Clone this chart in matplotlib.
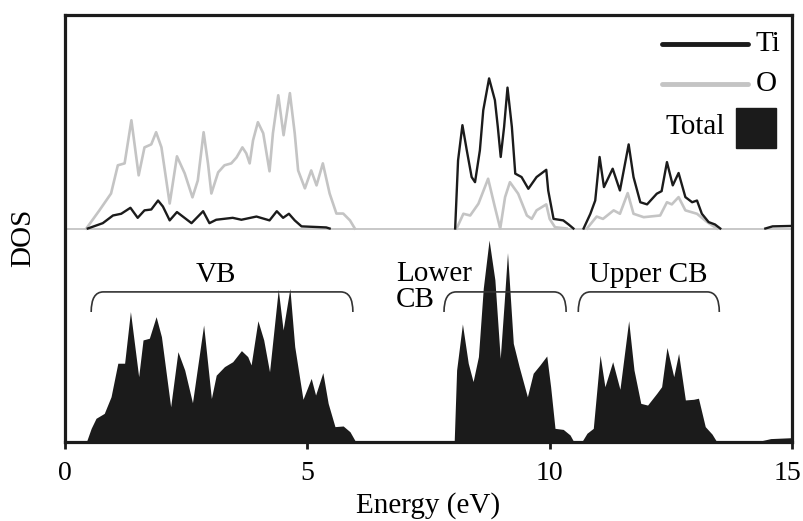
import numpy as np
import matplotlib
matplotlib.use("Agg")
import matplotlib.pyplot as plt
from matplotlib.path import Path
from matplotlib.patches import PathPatch, Rectangle
from matplotlib.transforms import ScaledTranslation

nan = np.nan

# ---- Partial DOS (upper panel, offset by 1) ----
ti_energy = [0.47, 0.78, 0.99, 1.16, 1.35, 1.50, 1.64, 1.78, 1.92, 2.02, 2.16, 2.31, 2.61, 2.85,
             2.98, 3.12, 3.46, 3.64, 3.95, 4.22, 4.37, 4.50, 4.62, 4.74, 4.88, 5.19, 5.39, 5.46,
             nan,
             8.05, 8.11, 8.20, 8.29, 8.39, 8.46, 8.56, 8.63, 8.75, 8.87, 8.93, 8.99, 9.06, 9.13,
             9.22, 9.29, 9.42, 9.56, 9.73, 9.93, 9.97, 10.08, 10.28, 10.39, 10.49,
             nan,
             10.70, 10.84, 10.94, 11.03, 11.12, 11.30, 11.45, 11.63, 11.73, 11.87, 12.01, 12.21,
             12.31, 12.42, 12.54, 12.66, 12.80, 12.94, 13.04, 13.14, 13.28, 13.41, 13.52,
             nan,
             14.45, 14.60, 15.0]
ti_dos = [0, 0.025, 0.061, 0.069, 0.097, 0.05, 0.085, 0.089, 0.131, 0.103, 0.038, 0.077, 0.025, 0.081,
          0.025, 0.041, 0.05, 0.041, 0.056, 0.038, 0.081, 0.05, 0.069, 0.038, 0.01, 0.007, 0.005, 0,
          nan,
          0, 0.319, 0.484, 0.366, 0.241, 0.217, 0.366, 0.554, 0.703, 0.601, 0.476, 0.335, 0.476, 0.66,
          0.476, 0.257, 0.241, 0.186, 0.241, 0.275, 0.178, 0.045, 0.038, 0.019, 0,
          nan,
          0, 0.069, 0.131, 0.335, 0.194, 0.28, 0.178, 0.394, 0.241, 0.123, 0.113, 0.163,
          0.175, 0.311, 0.202, 0.26, 0.147, 0.123, 0.131, 0.069, 0.03, 0.019, 0,
          nan,
          0, 0.01, 0.012]

o_energy = [0.44, 0.71, 0.95, 1.09, 1.23, 1.37, 1.52, 1.64, 1.78, 1.88, 1.99, 2.16, 2.31, 2.47,
            2.63, 2.74, 2.86, 2.95, 3.02, 3.16, 3.29, 3.43, 3.54, 3.66, 3.74, 3.81, 3.88, 3.98,
            4.09, 4.22, 4.29, 4.40, 4.51, 4.64, 4.74, 4.81, 4.95, 5.08, 5.19, 5.32, 5.46, 5.60,
            5.74, 5.88, 5.98,
            nan,
            8.08, 8.22, 8.36, 8.53, 8.73, 8.87, 8.98, 9.08, 9.18, 9.35, 9.53, 9.63, 9.73, 9.93,
            10.0, 10.11, 10.35,
            nan,
            10.77, 10.97, 11.10, 11.32, 11.45, 11.61, 11.73, 11.94, 12.28, 12.42, 12.52, 12.66,
            12.80, 13.04, 13.25, 13.45]
o_dos = [0, 0.085, 0.164, 0.296, 0.305, 0.507, 0.249, 0.38, 0.394, 0.451, 0.38, 0.117, 0.338, 0.258,
         0.146, 0.225, 0.451, 0.305, 0.164, 0.263, 0.296, 0.305, 0.333, 0.38, 0.352, 0.305, 0.413, 0.498,
         0.446, 0.268, 0.446, 0.624, 0.437, 0.634, 0.446, 0.272, 0.188, 0.272, 0.202, 0.305, 0.164, 0.07,
         0.07, 0.038, 0,
         nan,
         0, 0.069, 0.061, 0.116, 0.233, 0.1, 0, 0.147, 0.217, 0.163, 0.061, 0.045, 0.085, 0.113,
         0.045, 0.006, 0,
         nan,
         0, 0.056, 0.045, 0.085, 0.069, 0.166, 0.069, 0.053, 0.061, 0.123, 0.113, 0.147,
         0.085, 0.069, 0.03, 0]

# ---- Total DOS (lower panel) ----
tot_energy = [0.0, 0.44, 0.54, 0.64, 0.81, 0.95, 1.09, 1.23, 1.35, 1.52, 1.61, 1.74, 1.88, 1.99, 2.18,
              2.33, 2.47, 2.63, 2.86, 3.02, 3.12, 3.29, 3.46, 3.64, 3.77, 3.84, 3.98, 4.10,
              4.22, 4.40, 4.50, 4.64, 4.74, 4.91, 5.08, 5.17, 5.32, 5.43, 5.57, 5.74, 5.88, 6.0,
              8.03, 8.08, 8.20, 8.32, 8.42, 8.53, 8.63, 8.75, 8.87, 8.98, 9.06, 9.13, 9.25, 9.37, 9.54,
              9.66, 9.80, 9.94, 10.02, 10.11, 10.28, 10.42, 10.50, 10.66, 10.77, 10.90, 11.04,
              11.14, 11.30, 11.45, 11.63, 11.74, 11.88, 12.02, 12.21, 12.31, 12.42, 12.56, 12.66,
              12.80, 12.97, 13.07, 13.21, 13.35, 13.45, 14.35, 14.56, 14.97, 15.0]
tot_dos = [0, 0, 0.064, 0.111, 0.134, 0.212, 0.369, 0.369, 0.611, 0.306, 0.478, 0.486, 0.587, 0.493, 0.165,
           0.423, 0.337, 0.184, 0.548, 0.204, 0.313, 0.353, 0.376, 0.428, 0.4, 0.361, 0.568, 0.478,
           0.329, 0.715, 0.525, 0.719, 0.447, 0.2, 0.298, 0.22, 0.325, 0.181, 0.072, 0.075, 0.048, 0,
           0, 0.337, 0.553, 0.369, 0.283, 0.4, 0.72, 0.946, 0.759, 0.392, 0.649, 0.887, 0.462, 0.353, 0.212,
           0.322, 0.361, 0.403, 0.259, 0.064, 0.059, 0.033, 0, 0, 0.041, 0.064, 0.407,
           0.259, 0.376, 0.247, 0.568, 0.337, 0.181, 0.173, 0.228, 0.259, 0.443, 0.306, 0.415,
           0.197, 0.2, 0.205, 0.072, 0.037, 0, 0.005, 0.016, 0.02, 0.02]

# ---- Band annotations ----
band_labels = ["VB", "Lower\nCB", "Upper CB"]
band_ranges = [(0.54, 5.94), (7.82, 10.34), (10.59, 13.50)]

xticks = [0, 5, 10, 15]
offset = 1.0

serif = ["Liberation Serif", "DejaVu Serif"]
plt.rcParams["font.family"] = serif

fig = plt.figure(figsize=(8.04, 5.21), dpi=100)
W, H = 804, 521
ax = fig.add_axes([65 / W, (H - 442) / H, (792 - 65) / W, (442 - 15) / H])

dark = "#1b1b1b"
gray = "#c4c4c4"

# baseline of the upper panel
ax.axhline(offset, color=gray, lw=1.3, zorder=1)

ax.plot(o_energy, np.array(o_dos) + offset, color=gray, lw=1.9, zorder=2,
        solid_joinstyle="round")
ax.plot(ti_energy, np.array(ti_dos) + offset, color=dark, lw=1.7, zorder=3,
        solid_joinstyle="round")

ax.fill_between(tot_energy, 0, tot_dos, color=dark, lw=0, zorder=2)

ax.set_xlim(0, 15)
ax.set_ylim(0, 2)
ax.set_xticks(xticks)
ax.set_xticklabels([str(t) for t in xticks])
ax.set_yticks([])
ax.tick_params(axis="x", direction="out", length=5, width=2, labelsize=20, pad=9, color=dark)
for s in ax.spines.values():
    s.set_linewidth(2.3)
    s.set_color(dark)

# keep the last tick label inside the figure
last = ax.get_xticklabels()[-1]
last.set_transform(last.get_transform() + ScaledTranslation(-5 / 100, 0, fig.dpi_scale_trans))

ax.set_xlabel("Energy (eV)", fontsize=21, labelpad=4)
fig.text(23 / W, 1 - 238 / H, "DOS", rotation=90, fontsize=21, ha="center", va="center")

# brackets
ytop, ylow = 0.703, 0.609
dx = 0.25
for (x0, x1) in band_ranges:
    verts = [(x0, ylow), (x0, ytop), (x0 + dx, ytop), (x1 - dx, ytop), (x1, ytop), (x1, ylow)]
    codes = [Path.MOVETO, Path.CURVE3, Path.CURVE3, Path.LINETO, Path.CURVE3, Path.CURVE3]
    ax.add_patch(PathPatch(Path(verts, codes), fill=False, ec="#333333", lw=1.2, zorder=4))

ax.text(3.12, 0.782, band_labels[0], fontsize=21, ha="center", va="center")
ax.text(6.83, 0.726, band_labels[1], fontsize=21, ha="left", va="center", linespacing=1.0)
ax.text(12.03, 0.782, band_labels[2], fontsize=21, ha="center", va="center")

# legend drawn manually
T = ax.transAxes
ax.plot([0.821, 0.939], [0.932, 0.932], color=dark, lw=3.5, solid_capstyle="round", transform=T, zorder=5)
ax.plot([0.821, 0.939], [0.838, 0.838], color=gray, lw=3.5, solid_capstyle="round", transform=T, zorder=5)
ax.text(0.950, 0.932, "Ti", fontsize=21, ha="left", va="center", transform=T)
ax.text(0.950, 0.838, "O", fontsize=21, ha="left", va="center", transform=T)
ax.text(0.908, 0.738, "Total", fontsize=21, ha="right", va="center", transform=T)
ax.add_patch(Rectangle((0.923, 0.689), 0.055, 0.093, transform=T, color=dark, zorder=5))

fig.savefig("out.png", dpi=100)
